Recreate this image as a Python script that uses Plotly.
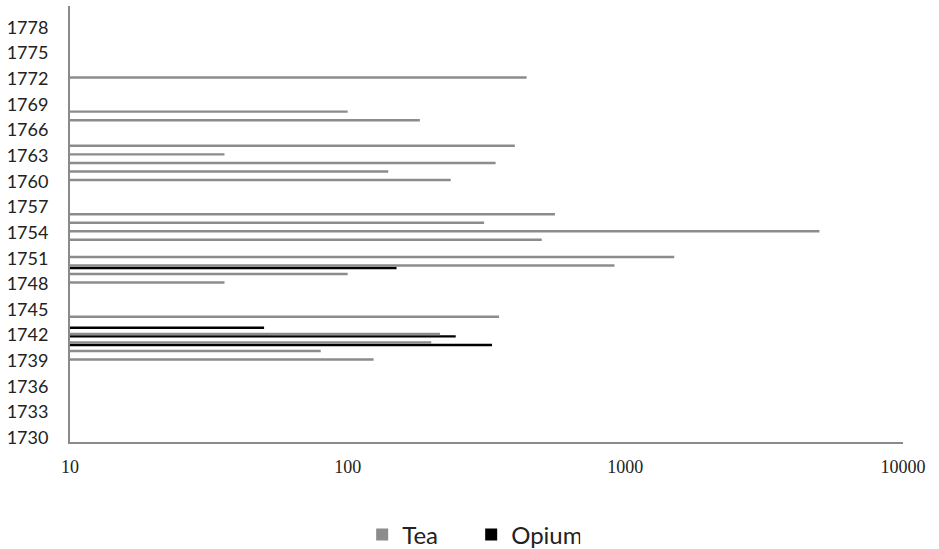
import plotly.graph_objects as go

tea_years = [1739, 1740, 1741, 1742, 1744, 1748, 1749, 1750, 1751, 1753, 1754, 1755, 1756,
             1760, 1761, 1762, 1763, 1764, 1767, 1768, 1772]
tea_values = [124, 80, 200, 215, 351, 36, 100, 914, 1500, 500, 5000, 310, 558,
              235, 140, 341, 36, 400, 182, 100, 441]

opium_years = [1741, 1742, 1743, 1750]
opium_values = [331, 245, 50, 150]

y_ticks = list(range(1730, 1779, 3))
x_ticks = [10, 100, 1000, 10000]

fig = go.Figure()
fig.add_trace(go.Bar(
    y=opium_years, x=opium_values, orientation="h", name="Opium",
    marker=dict(color="#000000", line=dict(width=0)), legendrank=2,
))
fig.add_trace(go.Bar(
    y=tea_years, x=tea_values, orientation="h", name="Tea",
    marker=dict(color="#8c8c8c", line=dict(width=0)), legendrank=1,
))

fig.update_layout(
    width=939, height=549,
    margin=dict(l=70, r=36, t=6, b=107, autoexpand=False),
    paper_bgcolor="white", plot_bgcolor="white",
    barmode="group", bargap=0.42, bargroupgap=0,
    showlegend=True,
    legend=dict(orientation="h", x=0.4816, xanchor="center", y=-0.213, yanchor="middle",
                font=dict(family="Lato", size=24, color="#222"),
                traceorder="normal", entrywidth=64, itemwidth=30),
    font=dict(family="Lato", color="#222"),
)
fig.update_xaxes(
    type="log", range=[1, 4], tickvals=x_ticks, ticktext=[str(v) for v in x_ticks],
    showgrid=False, zeroline=False, showline=True, linecolor="#8a8a8a", linewidth=2,
    ticks="", automargin=False, ticklabelstandoff=7,
    tickfont=dict(family="Liberation Serif", size=18, color="#222"),
)
fig.update_yaxes(
    range=[1729.5, 1780.5], tickvals=y_ticks, ticktext=[str(v) for v in y_ticks],
    showgrid=False, zeroline=False, showline=True, linecolor="#8a8a8a", linewidth=2,
    ticks="", automargin=False, ticklabelstandoff=16,
    tickfont=dict(family="Lato", size=18, color="#222"),
)

fig.write_html("out.html", config={"displayModeBar": False},
               post_script="document.body.style.margin='0';")
